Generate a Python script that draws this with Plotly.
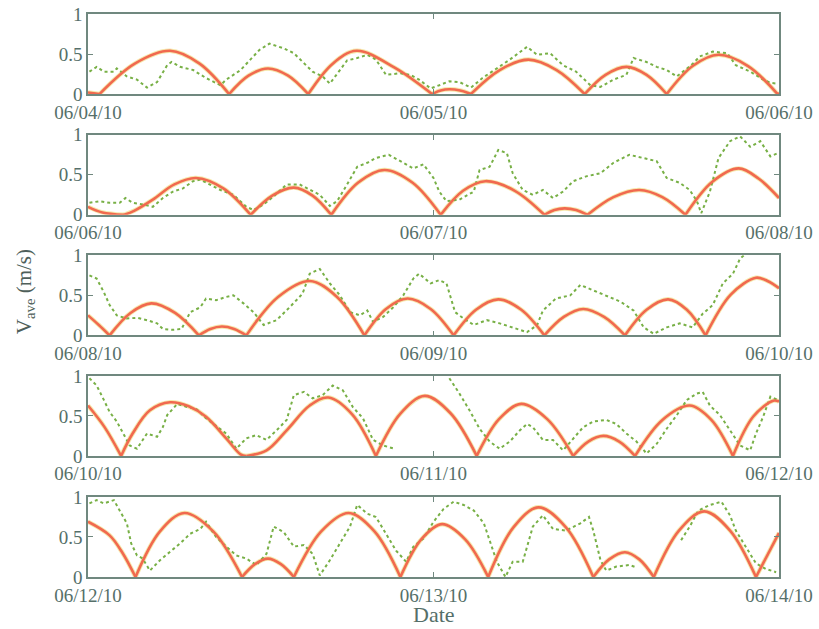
import pandas as pd
import plotly.graph_objects as go

# ---------------- data (hours after the start of each 2-day window) ----------------
window_starts = ["2010-06-04", "2010-06-06", "2010-06-08", "2010-06-10", "2010-06-12"]
tick_labels = [
    ["06/04/10", "06/05/10", "06/06/10"],
    ["06/06/10", "06/07/10", "06/08/10"],
    ["06/08/10", "06/09/10", "06/10/10"],
    ["06/10/10", "06/11/10", "06/12/10"],
    ["06/12/10", "06/13/10", "06/14/10"],
]
y_tick_values = [0, 0.5, 1]
y_tick_text = ["0", "0.5", "1"]

# model (orange) arcs: times (h) and speeds (m/s), one sub-list per arc
model_t1 = [[0, 0.8], [0.8, 3.25, 5.7, 7.75, 9.8], [9.8, 11.15, 12.5, 13.9, 15.3],
            [15.3, 17.0, 18.66, 21.3, 23.9], [23.9, 24.5, 25.1, 25.85, 26.6],
            [26.6, 28.6, 30.6, 32.55, 34.5], [34.5, 35.95, 37.4, 38.8, 40.2],
            [40.2, 42.0, 43.8, 45.85, 47.9], [47.9, 48]]
model_v1 = [[0.02, 0], [0, 0.38, 0.54, 0.38, 0], [0, 0.23, 0.32, 0.23, 0],
            [0, 0.38, 0.54, 0.33, 0], [0, 0.045, 0.06, 0.045, 0],
            [0, 0.30, 0.43, 0.30, 0], [0, 0.24, 0.34, 0.24, 0],
            [0, 0.35, 0.49, 0.35, 0], [0, 0.01]]

model_t2 = [[0, 1.0, 2.5], [2.5, 3.2, 4.5, 6.0, 7.5, 9.4, 11.3], [11.3, 12.8, 14.3, 15.6, 16.9],
            [16.9, 18.75, 20.6, 22.55, 24.5], [24.5, 26.05, 27.6, 29.65, 31.7],
            [31.7, 32.4, 33.1, 33.9, 34.7], [34.7, 36.5, 38.3, 39.9, 41.5],
            [41.5, 43.35, 45.2, 46.6, 48]]
model_v2 = [[0.10, 0.03, 0], [0, 0.05, 0.19, 0.38, 0.46, 0.33, 0], [0, 0.24, 0.34, 0.24, 0],
            [0, 0.40, 0.56, 0.40, 0], [0, 0.30, 0.42, 0.30, 0],
            [0, 0.06, 0.08, 0.06, 0], [0, 0.22, 0.31, 0.22, 0],
            [0, 0.41, 0.58, 0.45, 0.21]]

model_t3 = [[0, 0.75, 1.5], [1.5, 2.95, 4.4, 6.05, 7.7], [7.7, 8.5, 9.3, 10.15, 11.0],
            [11.0, 13.2, 15.4, 17.3, 19.2], [19.2, 20.7, 22.2, 23.8, 25.4],
            [25.4, 26.95, 28.5, 30.1, 31.7], [31.7, 33.05, 34.4, 35.85, 37.3],
            [37.3, 38.8, 40.3, 41.6, 42.9], [42.9, 44.65, 46.4, 47.2, 48]]
model_v3 = [[0.25, 0.13, 0], [0, 0.28, 0.40, 0.28, 0], [0, 0.08, 0.11, 0.08, 0],
            [0, 0.48, 0.68, 0.48, 0], [0, 0.33, 0.46, 0.33, 0],
            [0, 0.32, 0.45, 0.32, 0], [0, 0.23, 0.33, 0.23, 0],
            [0, 0.32, 0.45, 0.32, 0], [0, 0.51, 0.72, 0.68, 0.59]]

model_t4 = [[0, 1.15, 2.3], [2.3, 3.1, 4.3, 5.7, 7.0, 8.2, 9.6, 10.6, 11.0],
            [11.0, 12.4, 13.8, 15.4, 16.7, 18.35, 20.0], [20.0, 21.7, 23.4, 25.2, 27.0],
            [27.0, 28.55, 30.1, 31.9, 33.7], [33.7, 34.75, 35.8, 36.9, 38.0],
            [38.0, 39.9, 41.8, 43.3, 44.8], [44.8, 46.2, 47.6, 48]]
model_v4 = [[0.63, 0.36, 0], [0, 0.28, 0.57, 0.67, 0.62, 0.49, 0.22, 0.02, 0],
            [0, 0.07, 0.32, 0.63, 0.73, 0.52, 0], [0, 0.53, 0.75, 0.53, 0],
            [0, 0.46, 0.65, 0.46, 0], [0, 0.18, 0.25, 0.18, 0],
            [0, 0.45, 0.63, 0.45, 0], [0, 0.49, 0.69, 0.68]]

model_t5 = [[0, 1.5, 2.4, 3.3], [3.3, 5.0, 6.7, 8.7, 10.7], [10.7, 11.6, 12.5, 13.4, 14.3],
            [14.3, 16.2, 18.1, 19.9, 21.7], [21.7, 23.15, 24.6, 26.2, 27.8],
            [27.8, 29.55, 31.3, 33.2, 35.1], [35.1, 36.2, 37.3, 38.3, 39.3],
            [39.3, 41.05, 42.8, 44.6, 46.4], [46.4, 48]]
model_v5 = [[0.69, 0.52, 0.30, 0], [0, 0.57, 0.80, 0.57, 0], [0, 0.16, 0.23, 0.16, 0],
            [0, 0.57, 0.80, 0.57, 0], [0, 0.47, 0.66, 0.47, 0],
            [0, 0.62, 0.87, 0.62, 0], [0, 0.22, 0.31, 0.22, 0],
            [0, 0.58, 0.82, 0.58, 0], [0, 0.55]]

# observed (green) averaged speed
obs_t1 = [0.1, 0.6, 1.1, 1.8, 2.0, 2.7, 3.4, 4.1, 4.8, 5.5, 5.8, 6.4, 7.3, 8.2, 9.2, 9.6, 10.6, 11.3,
          11.9, 12.6, 13.6, 14.3, 15.0, 15.6, 16.3, 16.8, 17.5, 18.0, 18.7, 19.4, 20.0, 20.7, 21.7,
          22.4, 23.0, 23.8, 24.4, 25.1, 25.8, 26.6, 27.4, 28.4, 29.3, 30.2, 30.5, 31.2, 32.1, 33.0,
          33.9, 34.9, 35.6, 36.5, 37.4, 37.9, 38.8, 39.5, 40.2, 40.9, 41.9, 42.5, 43.4, 44.4, 45.0,
          46.0, 46.9, 47.4, 47.9]
obs_v1 = [0.28, 0.34, 0.28, 0.28, 0.32, 0.22, 0.18, 0.08, 0.15, 0.36, 0.40, 0.34, 0.30, 0.20, 0.11,
          0.18, 0.30, 0.43, 0.55, 0.63, 0.57, 0.51, 0.38, 0.28, 0.22, 0.13, 0.30, 0.42, 0.45, 0.49,
          0.43, 0.24, 0.26, 0.24, 0.18, 0.07, 0.11, 0.16, 0.15, 0.08, 0.20, 0.32, 0.43, 0.55, 0.59,
          0.49, 0.51, 0.36, 0.28, 0.11, 0.09, 0.18, 0.24, 0.45, 0.40, 0.34, 0.30, 0.22, 0.36, 0.47,
          0.53, 0.51, 0.36, 0.28, 0.18, 0.14, 0.13]

obs_t2 = [0.1, 0.8, 1.5, 2.2, 2.6, 3.1, 3.8, 4.5, 5.2, 5.9, 6.6, 7.3, 7.8, 8.5, 9.2, 10.1, 11.0, 11.5,
          12.2, 12.9, 13.8, 14.7, 15.4, 16.1, 16.8, 17.3, 18.0, 18.7, 19.4, 20.0, 20.9, 21.7, 22.6,
          23.3, 24.0, 24.4, 24.9, 25.8, 26.8, 27.2, 27.9, 28.5, 29.1, 29.5, 30.2, 30.9, 31.6, 32.3,
          33.0, 33.7, 34.6, 35.6, 36.5, 37.6, 38.6, 39.5, 40.2, 41.1, 41.8, 42.3, 42.6, 43.2, 43.8,
          44.6, 45.3, 46.0, 46.7, 47.4, 47.9]
obs_v2 = [0.15, 0.17, 0.15, 0.15, 0.21, 0.15, 0.13, 0.10, 0.21, 0.29, 0.33, 0.42, 0.44, 0.38, 0.31,
          0.25, 0.10, 0.06, 0.13, 0.23, 0.38, 0.38, 0.31, 0.25, 0.11, 0.17, 0.38, 0.60, 0.65, 0.71,
          0.75, 0.67, 0.58, 0.63, 0.46, 0.29, 0.17, 0.19, 0.29, 0.56, 0.60, 0.81, 0.77, 0.52, 0.31,
          0.25, 0.31, 0.21, 0.29, 0.42, 0.48, 0.52, 0.65, 0.75, 0.71, 0.67, 0.46, 0.40, 0.31, 0.17,
          0.02, 0.29, 0.71, 0.92, 0.98, 0.85, 0.92, 0.73, 0.77]

obs_t3 = [0.1, 0.6, 1.1, 1.5, 2.0, 2.7, 3.4, 4.1, 4.8, 5.2, 5.9, 6.5, 7.1, 7.8, 8.2, 8.9, 9.6, 10.1,
          10.8, 11.5, 12.2, 13.1, 14.0, 14.9, 15.4, 16.1, 16.8, 17.5, 18.2, 18.9, 19.4, 19.8, 20.5,
          21.2, 21.9, 22.6, 23.0, 23.8, 24.4, 24.9, 25.5, 26.1, 26.8, 27.7, 28.6, 29.5, 30.5, 31.2,
          31.6, 32.5, 33.5, 34.2, 35.1, 36.0, 37.0, 37.9, 38.6, 39.3, 40.2, 41.1, 42.0, 42.7, 43.4,
          44.1, 44.8, 45.3, 45.7]
obs_v3 = [0.75, 0.71, 0.54, 0.38, 0.25, 0.21, 0.22, 0.19, 0.15, 0.08, 0.07, 0.08, 0.29, 0.35, 0.46,
          0.44, 0.48, 0.50, 0.40, 0.29, 0.13, 0.19, 0.35, 0.52, 0.77, 0.83, 0.65, 0.50, 0.29, 0.25,
          0.31, 0.17, 0.23, 0.35, 0.50, 0.71, 0.77, 0.65, 0.69, 0.65, 0.29, 0.21, 0.13, 0.19, 0.15,
          0.10, 0.04, 0.13, 0.31, 0.46, 0.50, 0.63, 0.56, 0.50, 0.42, 0.31, 0.10, 0.02, 0.10, 0.15,
          0.10, 0.27, 0.38, 0.65, 0.77, 0.96, 1.02]

obs_t4 = [0.1, 0.6, 1.1, 1.5, 2.0, 2.5, 2.9, 3.4, 4.1, 4.8, 5.2, 5.5, 6.2, 6.9, 7.5, 8.2, 8.9, 9.6,
          10.3, 11.0, 11.7, 12.4, 13.1, 13.8, 14.3, 15.0, 15.6, 16.3, 17.0, 17.7, 18.4, 19.1, 19.8,
          20.5, 21.3, 23.0, 25.1, 25.8, 26.5, 27.2, 27.9, 28.6, 29.3, 30.0, 30.5, 30.9, 31.6, 32.3,
          33.0, 33.7, 34.4, 35.1, 36.0, 36.7, 37.4, 38.1, 38.8, 39.5, 40.2, 40.9, 41.6, 42.3, 42.7,
          43.2, 43.9, 44.6, 45.3, 46.0, 46.4, 46.9, 47.4, 47.9]
obs_v4 = [0.97, 0.88, 0.70, 0.55, 0.43, 0.26, 0.13, 0.09, 0.28, 0.24, 0.36, 0.51, 0.65, 0.61, 0.59,
          0.47, 0.38, 0.28, 0.09, 0.22, 0.26, 0.20, 0.32, 0.45, 0.76, 0.80, 0.72, 0.76, 0.88, 0.82,
          0.61, 0.47, 0.20, 0.13, 0.09, None, 0.97, 0.78, 0.57, 0.34, 0.18, 0.09, 0.18, 0.32, 0.40,
          0.36, 0.20, 0.20, 0.07, 0.22, 0.36, 0.43, 0.45, 0.40, 0.28, 0.18, 0.03, 0.15, 0.34, 0.51,
          0.70, 0.78, 0.80, 0.63, 0.51, 0.32, 0.13, 0.07, 0.28, 0.49, 0.74, 0.70]

obs_t5 = [0.1, 0.6, 1.1, 1.8, 2.2, 2.7, 3.0, 3.4, 3.8, 4.3, 5.0, 5.7, 6.4, 7.1, 7.8, 8.2, 8.9, 9.6,
          10.3, 11.0, 11.7, 12.4, 12.9, 13.6, 14.3, 15.0, 15.6, 16.1, 16.8, 17.5, 18.2, 18.7, 19.4,
          20.0, 20.7, 21.4, 22.1, 22.6, 23.3, 24.0, 24.7, 25.4, 26.1, 26.8, 27.5, 27.9, 28.4, 29.0,
          29.5, 30.2, 30.9, 31.6, 32.3, 33.2, 34.2, 34.8, 35.1, 35.6, 36.0, 36.7, 37.6, 38.1, 39.6,
          41.2, 41.8, 42.4, 43.2, 44.0, 44.6, 45.0, 45.7, 46.4, 47.1, 47.8]
obs_v5 = [0.92, 0.96, 0.92, 0.96, 0.83, 0.67, 0.42, 0.27, 0.23, 0.08, 0.21, 0.31, 0.42, 0.54, 0.60,
          0.69, 0.50, 0.38, 0.27, 0.23, 0.15, 0.29, 0.63, 0.56, 0.38, 0.40, 0.29, 0.02, 0.21, 0.42,
          0.63, 0.90, 0.79, 0.75, 0.54, 0.33, 0.19, 0.38, 0.48, 0.69, 0.85, 0.94, 0.90, 0.83, 0.67,
          0.46, 0.19, 0.00, 0.19, 0.19, 0.63, 0.77, 0.60, 0.58, 0.67, 0.75, 0.58, 0.21, 0.08, 0.13,
          0.15, 0.12, None, 0.46, 0.63, 0.83, 0.90, 0.94, 0.77, 0.58, 0.38, 0.17, 0.10, 0.06]

model_t = [model_t1, model_t2, model_t3, model_t4, model_t5]
model_v = [model_v1, model_v2, model_v3, model_v4, model_v5]
obs_t = [obs_t1, obs_t2, obs_t3, obs_t4, obs_t5]
obs_v = [obs_v1, obs_v2, obs_v3, obs_v4, obs_v5]

# ---------------- styling ----------------
FONT = "Liberation Serif, Times New Roman, DejaVu Serif, serif"
TXT = "#556f69"
FRAME = "#70887f"
ORANGE = "#f1694f"
HALO = "#f3de8a"
GREEN = "#78b046"

W, H = 819, 629
ML, MR, MT, MB = 88, 40, 14, 52.3
plot_h = H - MT - MB
panel_tops = [14, 134.7, 255.2, 375.7, 496.7]
panel_h = 80


def to_time(start, hours):
    base = pd.Timestamp(start)
    return [base + pd.Timedelta(hours=h) for h in hours]


fig = go.Figure()
for i in range(5):
    start = window_starts[i]
    xa = "x" if i == 0 else f"x{i + 1}"
    ya = "y" if i == 0 else f"y{i + 1}"

    # flatten arcs with gaps between them
    mt, mv = [], []
    for arc_t, arc_v in zip(model_t[i], model_v[i]):
        mt += to_time(start, arc_t) + [to_time(start, [arc_t[-1]])[0]]
        mv += list(arc_v) + [None]

    fig.add_trace(go.Scatter(x=mt, y=mv, mode="lines", xaxis=xa, yaxis=ya,
                             line=dict(color=HALO, width=4.5, shape="spline", smoothing=1.0),
                             opacity=0.7, hoverinfo="skip", showlegend=False))
    fig.add_trace(go.Scatter(x=to_time(start, obs_t[i]), y=obs_v[i], mode="lines",
                             xaxis=xa, yaxis=ya, connectgaps=False,
                             line=dict(color=GREEN, width=2, dash="dot"),
                             showlegend=False))
    fig.add_trace(go.Scatter(x=mt, y=mv, mode="lines", xaxis=xa, yaxis=ya,
                             line=dict(color=ORANGE, width=2.6, shape="spline", smoothing=1.0),
                             showlegend=False))

    top = panel_tops[i]
    bot = top + panel_h
    dom = [max(0.0, 1 - (bot - MT) / plot_h), 1 - (top - MT) / plot_h]
    t0 = pd.Timestamp(start)
    tv = [t0, t0 + pd.Timedelta(hours=24), t0 + pd.Timedelta(hours=48)]

    xkey = "xaxis" if i == 0 else f"xaxis{i + 1}"
    ykey = "yaxis" if i == 0 else f"yaxis{i + 1}"
    fig.layout[xkey] = dict(
        type="date", range=[tv[0], tv[2]], anchor=ya, domain=[0, 1],
        tickvals=tv, ticktext=tick_labels[i], ticks="inside", ticklen=5,
        tickcolor=FRAME, showline=True, linecolor=FRAME, linewidth=1.5,
        mirror="ticks", showgrid=False, zeroline=False, automargin=False,
        ticklabeloverflow="allow",
        tickfont=dict(family=FONT, size=19, color=TXT),
    )
    fig.layout[ykey] = dict(
        range=[0, 1], anchor=xa, domain=dom,
        tickvals=y_tick_values, ticktext=y_tick_text, ticks="inside", ticklen=5,
        tickcolor=FRAME, showline=True, linecolor=FRAME, linewidth=1.5,
        mirror="ticks", showgrid=False, zeroline=False, automargin=False,
        ticklabeloverflow="allow",
        tickfont=dict(family=FONT, size=19, color=TXT),
    )

fig.add_annotation(text="V<sub>ave</sub> (m/s)", xref="paper", yref="paper",
                   x=(25 - ML) / (W - ML - MR), y=1 - (292 - MT) / plot_h,
                   textangle=-90, showarrow=False, xanchor="center", yanchor="middle",
                   font=dict(family=FONT, size=21, color="#4f5f5a"))
fig.add_annotation(text="Date", xref="paper", yref="paper",
                   x=0.5, y=1 - (614 - MT) / plot_h, showarrow=False,
                   xanchor="center", yanchor="middle",
                   font=dict(family=FONT, size=22, color=TXT))

fig.update_layout(width=W, height=H,
                  margin=dict(l=ML, r=MR, t=MT, b=MB, autoexpand=False),
                  paper_bgcolor="white", plot_bgcolor="white",
                  font=dict(family=FONT, color=TXT))

# place the figure flush with the page corner (no default body margin), no mode bar
fig.write_html("out.html",
               config={"displayModeBar": False},
               post_script="document.body.style.margin='0px';"
                           "document.body.style.overflow='hidden';")
